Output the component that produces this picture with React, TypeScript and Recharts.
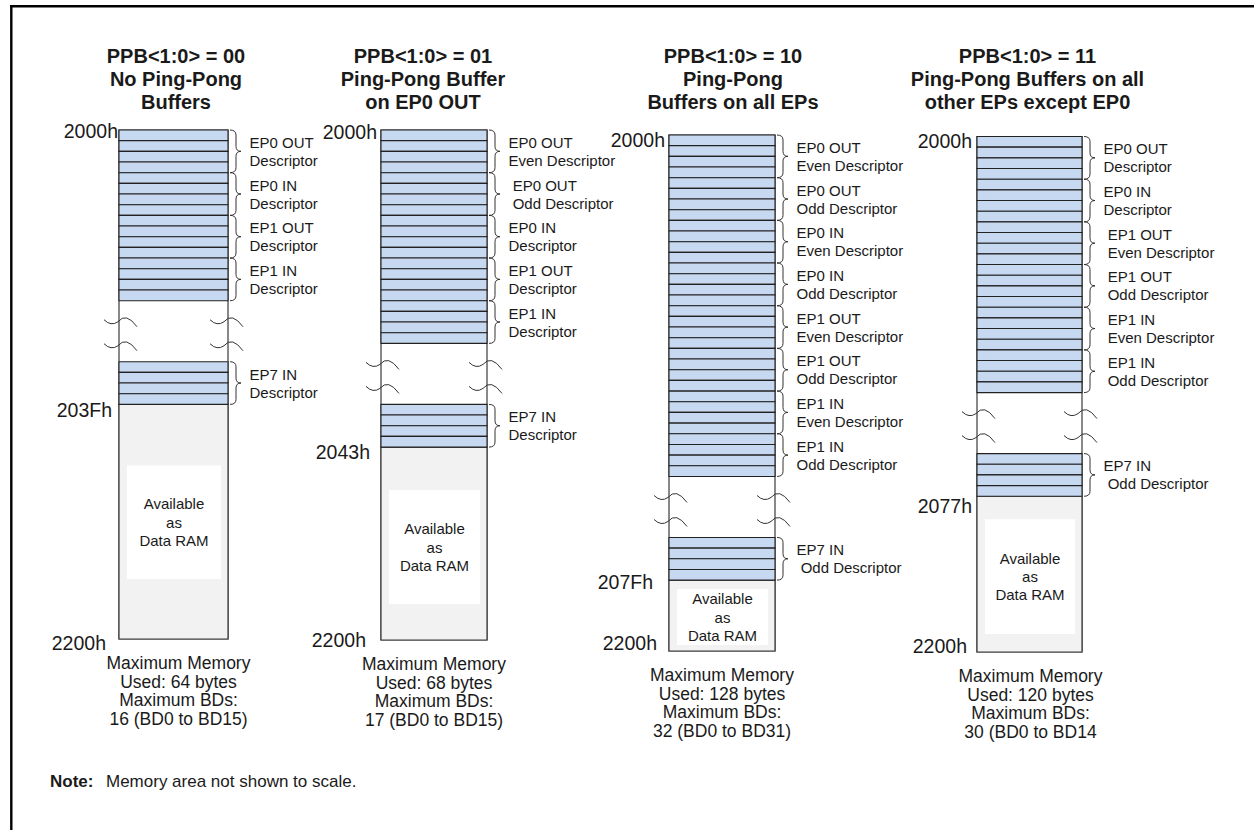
import React from 'react';
import {
  ComposedChart,
  XAxis,
  YAxis,
  Scatter,
  ReferenceArea,
  ReferenceDot,
  ReferenceLine,
} from 'recharts';

const W = 1254;
const H = 830;

// ---- content ----
const titleLines = [
  ['PPB<1:0> = 00', 'No Ping-Pong', 'Buffers'],
  ['PPB<1:0> = 01', 'Ping-Pong Buffer', 'on EP0 OUT'],
  ['PPB<1:0> = 10', 'Ping-Pong', 'Buffers on all EPs'],
  ['PPB<1:0> = 11', 'Ping-Pong Buffers on all', 'other EPs except EP0'],
];
// descriptors in the first contiguous block of each map
const mainBDs = [
  ['EP0 OUT\nDescriptor', 'EP0 IN\nDescriptor', 'EP1 OUT\nDescriptor', 'EP1 IN\nDescriptor'],
  ['EP0 OUT\nEven Descriptor', ' EP0 OUT\n Odd Descriptor', 'EP0 IN\nDescriptor', 'EP1 OUT\nDescriptor', 'EP1 IN\nDescriptor'],
  [
    'EP0 OUT\nEven Descriptor', 'EP0 OUT\nOdd Descriptor', 'EP0 IN\nEven Descriptor', 'EP0 IN\nOdd Descriptor',
    'EP1 OUT\nEven Descriptor', 'EP1 OUT\nOdd Descriptor', 'EP1 IN\nEven Descriptor', 'EP1 IN\nOdd Descriptor',
  ],
  ['EP0 OUT\nDescriptor', 'EP0 IN\nDescriptor', ' EP1 OUT\n Even Descriptor', ' EP1 OUT\n Odd Descriptor', ' EP1 IN\n Even Descriptor', ' EP1 IN\n Odd Descriptor'],
];
const lastBD = ['EP7 IN\nDescriptor', 'EP7 IN\nDescriptor', 'EP7 IN\n Odd Descriptor', 'EP7 IN\n Odd Descriptor'];
const startAddr = ['2000h', '2000h', '2000h', '2000h'];
const endAddr = ['203Fh', '2043h', '207Fh', '2077h'];
const ramEndAddr = ['2200h', '2200h', '2200h', '2200h'];
const maxMemoryBytes = [64, 68, 128, 120];
const maxBDs = [16, 17, 32, 30];
const bdRanges = ['(BD0 to BD15)', '(BD0 to BD15)', '(BD0 to BD31)', '(BD0 to BD14'];
const ramText = ['Available', 'as', 'Data RAM'];
const BYTES_PER_BD = 4;
const noteHead = 'Note:';
const noteBody = 'Memory area not shown to scale.';

// ---- layout, in the 1254 x 830 frame ----
const ROW_H = 10.67;
const GAP_H = 61;
const colLeft = [119, 381, 669, 977];
const colWidth = [109, 106, 106, 105];
const colTop = [130, 130, 135, 136.5];
const colBottom = [639, 640, 651, 652];
const ramInset = [[61, 60], [43, 36], [9, 6], [23, 18]];
const titleDx = [2.5, -11, 11, -2];
const captionDx = [5, 0, 0, 1];
const addrDy = [[1, 6, 4], [2, 5, 0], [5, 2, -8], [4, 10, -6]];
const addrGap = [[1, 7, 13], [4, 11, 15], [4, 16, 12], [5, 5, 10]];

const FONT = '"Liberation Sans", Arial, Helvetica, sans-serif';
const BLUE = '#c6d9f1';
const GRAY = '#f2f2f2';
const INK = '#1a1a1a';

const textStyle: Record<string, any> = {
  title: { fontSize: 20, fontWeight: 700, anchor: 'middle' },
  addr: { fontSize: 19.5, fontWeight: 400, anchor: 'end' },
  label: { fontSize: 15, fontWeight: 400, anchor: 'start' },
  caption: { fontSize: 17.5, fontWeight: 400, anchor: 'middle' },
  noteHead: { fontSize: 17, fontWeight: 700, anchor: 'start' },
  note: { fontSize: 17, fontWeight: 400, anchor: 'start' },
};

// ---- build geometry from the values ----
const columns = mainBDs.map((bds, c) => {
  const left = colLeft[c];
  const right = left + colWidth[c];
  const top = colTop[c];
  const mainBottom = top + bds.length * BYTES_PER_BD * ROW_H;
  const tailTop = mainBottom + GAP_H;
  const tailBottom = tailTop + BYTES_PER_BD * ROW_H;
  const bottom = colBottom[c];
  return { c, left, right, top, mainBottom, tailTop, tailBottom, bottom, cx: (left + right) / 2 };
});

type Row = { key: string; x1: number; x2: number; y1: number; y2: number };
const rows: Row[] = [];
type Brace = { key: string; x1: number; x2: number; y1: number; y2: number; label: string };
const braces: Brace[] = [];

columns.forEach((col) => {
  const groups = [
    { y0: col.top, bds: mainBDs[col.c] },
    { y0: col.tailTop, bds: [lastBD[col.c]] },
  ];
  groups.forEach((g, gi) => {
    g.bds.forEach((label, b) => {
      const by = g.y0 + b * BYTES_PER_BD * ROW_H;
      for (let r = 0; r < BYTES_PER_BD; r++) {
        rows.push({
          key: `r${col.c}-${gi}-${b}-${r}`,
          x1: col.left,
          x2: col.right,
          y1: by + r * ROW_H,
          y2: by + (r + 1) * ROW_H,
        });
      }
      braces.push({
        key: `b${col.c}-${gi}-${b}`,
        x1: col.right + 2,
        x2: col.right + 13,
        y1: by,
        y2: by + BYTES_PER_BD * ROW_H,
        label,
      });
    });
  });
});

type TextItem = { x: number; y: number; text: string; kind: string };
const texts: TextItem[] = [];
columns.forEach((col) => {
  const c = col.c;
  titleLines[c].forEach((t, i) => {
    texts.push({ x: col.cx + titleDx[c], y: [56, 79, 101.5][i], text: t, kind: 'title' });
  });
  [startAddr[c], endAddr[c], ramEndAddr[c]].forEach((t, i) => {
    const y = [col.top, col.tailBottom, col.bottom][i];
    texts.push({ x: col.left - addrGap[c][i], y: y + addrDy[c][i], text: t, kind: 'addr' });
  });
  const caption = [
    'Maximum Memory',
    `Used: ${maxMemoryBytes[c]} bytes`,
    'Maximum BDs:',
    `${maxBDs[c]} ${bdRanges[c]}`,
  ];
  caption.forEach((t, i) => {
    texts.push({ x: col.cx + captionDx[c], y: col.bottom + 24 + i * 18.7, text: t, kind: 'caption' });
  });
});
braces.forEach((b) => {
  const tip = (b.y1 + b.y2) / 2;
  b.label.split('\n').forEach((t, i) => {
    texts.push({ x: b.x1 + 19.5, y: tip + (i === 0 ? -9 : 9), text: t, kind: 'label' });
  });
});
texts.push({ x: 50, y: 781, text: noteHead, kind: 'noteHead' });
texts.push({ x: 106, y: 781, text: noteBody, kind: 'note' });

// ---- custom shapes ----
const TextMark = (p: any) => {
  const d = p.payload as TextItem;
  const s = textStyle[d.kind];
  return (
    <text
      x={p.cx}
      y={p.cy}
      textAnchor={s.anchor}
      dominantBaseline="central"
      fontFamily={FONT}
      fontSize={s.fontSize}
      fontWeight={s.fontWeight}
      fill={INK}
      xmlSpace="preserve"
      style={{ whiteSpace: 'pre' }}
    >
      {d.text}
    </text>
  );
};

const BraceShape = (p: any) => {
  const x0 = p.x;
  const y0 = Math.min(p.y, p.y + p.height);
  const h = Math.abs(p.height);
  const xv = x0 + 6;
  const xt = x0 + Math.abs(p.width);
  const mid = y0 + h / 2;
  const d = `M${x0},${y0} Q${xv},${y0} ${xv},${y0 + 5} L${xv},${mid - 5} Q${xv},${mid} ${xt},${mid} Q${xv},${mid} ${xv},${mid + 5} L${xv},${y0 + h - 5} Q${xv},${y0 + h} ${x0},${y0 + h}`;
  return <path d={d} fill="none" stroke="#333" strokeWidth={1} />;
};

const RamBox = (p: any) => {
  const y0 = Math.min(p.y, p.y + p.height);
  const h = Math.abs(p.height);
  const cx = p.x + p.width / 2;
  const cy = y0 + h / 2;
  return (
    <g>
      <rect x={p.x} y={y0} width={p.width} height={h} fill="#ffffff" />
      {ramText.map((t, i) => (
        <text
          key={t}
          x={cx}
          y={cy + (i - 1) * 18.3}
          textAnchor="middle"
          dominantBaseline="central"
          fontFamily={FONT}
          fontSize={15}
          fill={INK}
        >
          {t}
        </text>
      ))}
    </g>
  );
};

const BreakMark = (p: any) => {
  const x = p.cx;
  const y = p.cy;
  const d = `M${x},${y - 1} Q${x + 7},${y + 6} ${x + 14},${y + 1} Q${x + 22},${y - 9} ${x + 33},${y + 6}`;
  return <path d={d} fill="none" stroke="#333" strokeWidth={1} />;
};

export default function App() {
  return (
    <div style={{ position: 'absolute', left: 0, top: 0, width: W, height: H, background: '#fff' }}>
      <ComposedChart width={W} height={H} data={texts} margin={{ top: 0, right: 0, bottom: 0, left: 0 }}>
        <XAxis type="number" dataKey="x" domain={[0, W]} allowDataOverflow hide />
        <YAxis type="number" dataKey="y" domain={[0, H]} allowDataOverflow reversed hide />

        {/* frame */}
        <ReferenceLine segment={[{ x: 10, y: 6.2 }, { x: W, y: 6.2 }]} stroke="#000" strokeWidth={2.4} />
        <ReferenceLine segment={[{ x: 11.3, y: 5 }, { x: 11.3, y: H }]} stroke="#000" strokeWidth={2.4} />

        {/* column outlines */}
        {columns.map((col) => (
          <ReferenceArea
            key={`col${col.c}`}
            x1={col.left}
            x2={col.right}
            y1={col.top}
            y2={col.bottom}
            fill="#ffffff"
            fillOpacity={1}
            stroke="#3a3a3a"
            strokeWidth={1.2}
          />
        ))}
        {/* free RAM below the descriptor table */}
        {columns.map((col) => (
          <ReferenceArea
            key={`gray${col.c}`}
            x1={col.left}
            x2={col.right}
            y1={col.tailBottom}
            y2={col.bottom}
            fill={GRAY}
            fillOpacity={1}
            stroke="#3a3a3a"
            strokeWidth={1.2}
          />
        ))}
        {columns.map((col) => (
          <ReferenceArea
            key={`ram${col.c}`}
            x1={col.left + 8}
            x2={col.right - 7}
            y1={col.tailBottom + ramInset[col.c][0]}
            y2={col.bottom - ramInset[col.c][1]}
            shape={RamBox}
          />
        ))}
        {/* one row per byte */}
        {rows.map((r) => (
          <ReferenceArea
            key={r.key}
            x1={r.x1}
            x2={r.x2}
            y1={r.y1}
            y2={r.y2}
            fill={BLUE}
            fillOpacity={1}
            stroke="#222"
            strokeWidth={1.1}
          />
        ))}
        {braces.map((b) => (
          <ReferenceArea key={b.key} x1={b.x1} x2={b.x2} y1={b.y1} y2={b.y2} shape={BraceShape} />
        ))}
        {/* break marks in the skipped range */}
        {columns.flatMap((col) =>
          [20, 44].flatMap((dy) => [
            <ReferenceDot key={`bl${col.c}-${dy}`} x={col.left - 15} y={col.mainBottom + dy} r={0} shape={BreakMark} />,
            <ReferenceDot key={`br${col.c}-${dy}`} x={col.right - 18} y={col.mainBottom + dy} r={0} shape={BreakMark} />,
          ])
        )}

        <Scatter data={texts} shape={TextMark} isAnimationActive={false} />
      </ComposedChart>
    </div>
  );
}
